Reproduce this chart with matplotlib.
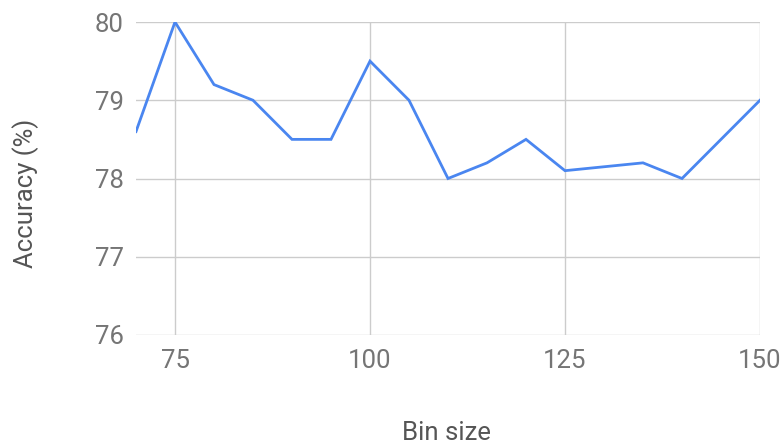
import matplotlib
matplotlib.use("Agg")
import matplotlib.pyplot as plt

bin_size = [70, 75, 80, 85, 90, 95, 100, 105, 110, 115, 120, 125, 130, 135, 140, 145, 150]
accuracy = [78.6, 80.0, 79.2, 79.0, 78.5, 78.5, 79.5, 79.0, 78.0, 78.2, 78.5, 78.1, 78.15, 78.2, 78.0, 78.5, 79.0]
x_ticks = [75, 100, 125, 150]
y_ticks = [76, 77, 78, 79, 80]

plt.rcParams['font.family'] = ['Roboto', 'DejaVu Sans']

fig = plt.figure(figsize=(7.81, 4.47), dpi=100)
ax = fig.add_axes([136/781, 1-335/447, (760-136)/781, (335-22)/447])

ax.plot(bin_size, accuracy, color='#4a86f0', linewidth=2.0, solid_joinstyle='miter', zorder=3)

ax.set_xlim(70, 150)
ax.set_ylim(76, 80)
ax.set_xticks(x_ticks)
ax.set_yticks(y_ticks)
ax.grid(True, color='#cccccc', linewidth=1.0)
for s in ax.spines.values():
    s.set_visible(False)
ax.tick_params(axis='both', length=0, labelsize=18.5, labelcolor='#757575')
ax.tick_params(axis='x', pad=10)
ax.tick_params(axis='y', pad=9)

fig.text(447/781, 1-433/447, 'Bin size', ha='center', va='center', fontsize=18.5, color='#555555')
fig.text(26/781, 1-193/447, 'Accuracy (%)', ha='center', va='center', rotation=90, fontsize=18.5, color='#555555')

fig.savefig('out.png', dpi=100)
